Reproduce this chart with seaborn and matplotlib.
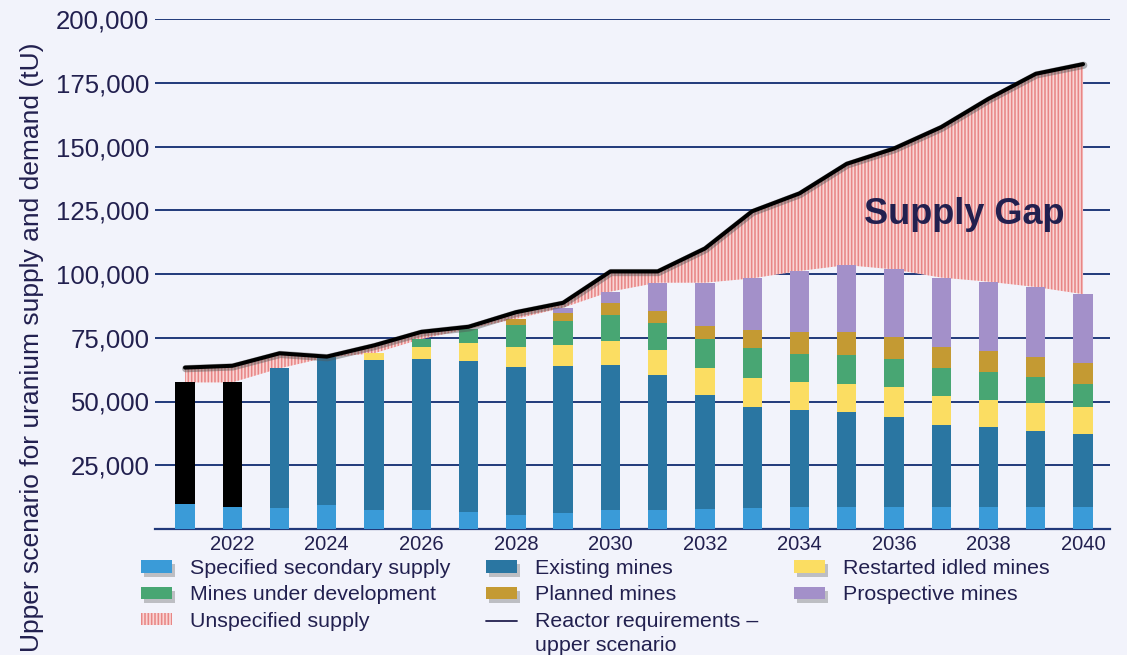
import numpy as np
import matplotlib
matplotlib.use("Agg")
import matplotlib.pyplot as plt
import seaborn as sns
from matplotlib.patches import Patch
from matplotlib.lines import Line2D
from matplotlib.legend_handler import HandlerLine2D
import matplotlib.patheffects as pe
from matplotlib.ticker import FuncFormatter

# ---------------- data (tU) ----------------
years = list(range(2021, 2041))
secondary_supply = [10000, 8700, 8400, 9300, 7600, 7400, 6800, 5500, 6100, 7400,
                    7400, 7700, 8100, 8500, 8700, 8700, 8700, 8700, 8700, 8700]
historical_production = [47500, 48800, 0, 0, 0, 0, 0, 0, 0, 0,
                         0, 0, 0, 0, 0, 0, 0, 0, 0, 0]
existing_mines = [0, 0, 54600, 58000, 58800, 59300, 58900, 58200, 57900, 57100,
                  52800, 45000, 39700, 38000, 37100, 35200, 31900, 31300, 29700, 28400]
restarted_idled = [0, 0, 0, 0, 2500, 4800, 7100, 7800, 8300, 9100,
                   10000, 10500, 11300, 11000, 11100, 11700, 11400, 10700, 10900, 10700]
under_development = [0, 0, 0, 0, 0, 3000, 5700, 8500, 9100, 10400,
                     10400, 11300, 11900, 11100, 11300, 11100, 11000, 10700, 10200, 9100]
planned_mines = [0, 0, 0, 0, 0, 0, 0, 2400, 3200, 4500,
                 4700, 5200, 7000, 8500, 8900, 8400, 8500, 8500, 8100, 8100]
prospective_mines = [0, 0, 0, 0, 0, 0, 0, 0, 2200, 4600,
                     11300, 16900, 20300, 24100, 26400, 26700, 27100, 27100, 27300, 27100]
reactor_requirements = [63300, 64000, 68900, 67600, 72000, 77300, 79300, 85000, 88700, 101000,
                        101000, 110000, 124600, 131600, 143200, 149200, 157600, 168700, 178500, 182300]
xtick_labels = [str(y) for y in years if y % 2 == 0]
ytick_values = [25000, 50000, 75000, 100000, 125000, 150000, 175000, 200000]

# ---------------- style ----------------
BG = "#f2f3fb"
NAVY = "#22204f"
GRID = "#21397a"
C_SEC = "#3a9bd8"
C_EXI = "#2a76a2"
C_RES = "#fbdd62"
C_DEV = "#48a673"
C_PLA = "#c49a33"
C_PRO = "#a390c9"
C_HIST = "#000000"
PINK_FACE = "#f9d6d6"
PINK_HATCH = "#e88686"

sns.set_theme(style="white", rc={
    "axes.facecolor": BG, "figure.facecolor": BG,
    "hatch.linewidth": 1.15, "hatch.color": PINK_HATCH,
})
plt.rcParams["font.family"] = ["Liberation Sans", "DejaVu Sans"]

W, H = 1127, 655
fig = plt.figure(figsize=(W / 100, H / 100), dpi=100)
fig.patch.set_facecolor(BG)
left_px, right_px, top_px, bottom_px = 155, 1110, 19, 529
ax = fig.add_axes([left_px / W, (H - bottom_px) / H,
                   (right_px - left_px) / W, (bottom_px - top_px) / H])
ax.set_facecolor(BG)

n = len(years)
pos = np.arange(n)
layers = [
    (secondary_supply, C_SEC),
    (historical_production, C_HIST),
    (existing_mines, C_EXI),
    (restarted_idled, C_RES),
    (under_development, C_DEV),
    (planned_mines, C_PLA),
    (prospective_mines, C_PRO),
]
bottom = np.zeros(n)
for vals, col in layers:
    v = np.array(vals, dtype=float)
    sns.barplot(x=years, y=v, bottom=bottom, color=col, saturation=1,
                width=0.41, errorbar=None, linewidth=0, ax=ax, zorder=3)
    bottom = bottom + v
total_supply = bottom

req = np.array(reactor_requirements, dtype=float)
ax.fill_between(pos, total_supply, req, facecolor=PINK_FACE, edgecolor=PINK_HATCH,
                hatch="|||||", linewidth=0, zorder=2)
ax.plot(pos, req, color="black", lw=2.9, zorder=5, solid_capstyle="round",
        path_effects=[pe.SimpleLineShadow(offset=(0.5, -0.8), shadow_color="#555555",
                                          alpha=0.45, linewidth=5.2), pe.Normal()])

# axes
ax.set_xlim(-0.635, 19.57)
ax.set_ylim(0, 200000)
ax.set_yticks(ytick_values)
ax.yaxis.set_major_formatter(FuncFormatter(lambda v, p: f"{int(v):,}"))
ax.set_xticks([i for i, y in enumerate(years) if y % 2 == 0])
ax.set_xticklabels(xtick_labels)
ax.tick_params(axis="y", length=0, pad=4, labelsize=18.5, labelcolor=NAVY)
ax.tick_params(axis="x", length=0, pad=4, labelsize=14.5, labelcolor=NAVY)
ax.grid(axis="y", color=GRID, lw=1.4)
ax.grid(axis="x", visible=False)
ax.set_axisbelow(True)
for s in ["top", "right", "left"]:
    ax.spines[s].set_visible(False)
ax.spines["bottom"].set_color(GRID)
ax.spines["bottom"].set_linewidth(1.6)
ax.set_xlabel("")
ax.set_ylabel("")

fig.text(32 / W, (H - 347) / H, "Upper scenario for uranium supply and demand (tU)",
         rotation=90, ha="center", va="center", fontsize=19, color=NAVY)

ax.text(16.48, 123400, "Supply Gap", ha="center", va="center", fontsize=26,
        fontweight="bold", color=NAVY, zorder=6)


# legend
class RaisedLine(HandlerLine2D):
    """Line handle aligned with the first line of a two-line label."""
    def create_artists(self, legend, orig_handle, xdescent, ydescent, width, height,
                       fontsize, trans):
        arts = super().create_artists(legend, orig_handle, xdescent, ydescent, width,
                                      height, fontsize, trans)
        for a in arts:
            a.set_ydata(np.asarray(a.get_ydata(), dtype=float) + 0.6 * fontsize)
            a.set_xdata(np.asarray(a.get_xdata(), dtype=float) + np.array([-4.0, 0.0])[:len(a.get_xdata())] if len(a.get_xdata()) == 2 else a.get_xdata())
        return arts


shadow = [pe.SimplePatchShadow(offset=(2, -3), shadow_rgbFace="#444444", alpha=0.3), pe.Normal()]
def box(c):
    return Patch(facecolor=c, edgecolor="none", linewidth=0, path_effects=shadow)
reactor_handle = Line2D([0], [0], color=NAVY, lw=1.3)
handles = [
    box(C_SEC),
    box(C_DEV),
    Patch(facecolor=PINK_FACE, edgecolor=PINK_HATCH, hatch="|||||", linewidth=0),
    box(C_EXI),
    box(C_PLA),
    reactor_handle,
    box(C_RES),
    box(C_PRO),
]
labels = ["Specified secondary supply", "Mines under development", "Unspecified supply",
          "Existing mines", "Planned mines", "Reactor requirements \u2013\nupper scenario",
          "Restarted idled mines", "Prospective mines"]
leg = fig.legend(handles, labels, ncol=3, loc="upper left",
                 bbox_to_anchor=(141 / W, (H - 559) / H), frameon=False,
                 fontsize=15.4, labelcolor=NAVY, handlelength=1.45, handleheight=0.5,
                 handletextpad=0.84, columnspacing=1.66, labelspacing=0.34,
                 borderpad=0, borderaxespad=0,
                 handler_map={reactor_handle: RaisedLine()})
for t in leg.get_texts():
    t.set_linespacing(1.35)

fig.savefig("out.png", dpi=100, facecolor=BG)
